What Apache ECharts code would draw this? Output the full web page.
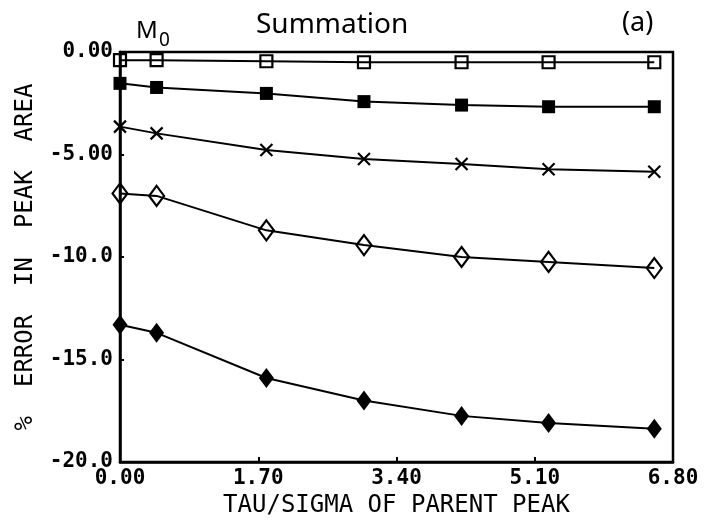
<!DOCTYPE html>
<html>
<head>
<meta charset="utf-8">
<script src="https://cdn.jsdelivr.net/npm/echarts@6/dist/echarts.min.js"></script>
<style>
  html, body { margin: 0; padding: 0; background: #fff; }
  #chart { width: 710px; height: 529px; }
</style>
</head>
<body>
<div id="chart"></div>
<script>
// Tau/sigma of the parent peak at which each error was evaluated
const xValues = [0, 0.45, 1.8, 3.0, 4.2, 5.27, 6.57];

// % error in peak area for each curve
const openSquare    = [-0.4, -0.4, -0.45, -0.5, -0.5, -0.5, -0.5];
const filledSquare  = [-1.53, -1.73, -2.02, -2.42, -2.59, -2.67, -2.67];
const crossMark     = [-3.64, -3.97, -4.78, -5.22, -5.46, -5.72, -5.84];
const openDiamond   = [-6.9, -7.02, -8.7, -9.42, -10.0, -10.24, -10.54];
const filledDiamond = [-13.3, -13.7, -15.9, -17.0, -17.75, -18.1, -18.38];

// Tick labels as printed on the axes
const xTickLabels = ['0.00', '1.70', '3.40', '5.10', '6.80'];
const yTickLabels = ['-20.0', '-15.0', '-10.0', '-5.00', '0.00'];

const INK = '#000';
const MONO = '"DejaVu Sans Mono", "Liberation Mono", monospace';
const SANS = '"Noto Sans", "DejaVu Sans", sans-serif';

function pairs(ys) {
  return xValues.map((x, i) => [x, ys[i]]);
}

function lineSeries(name, ys, symbol, size, filled) {
  return {
    name: name,
    type: 'line',
    data: pairs(ys),
    clip: false,
    symbol: symbol,
    symbolSize: size,
    showAllSymbol: true,
    lineStyle: { color: INK, width: 2 },
    itemStyle: {
      color: filled ? INK : 'transparent',
      borderColor: INK,
      borderWidth: filled ? 0 : 2.2
    },
    emphasis: { disabled: true },
    z: 3
  };
}

const chart = echarts.init(document.getElementById('chart'), null, { renderer: 'canvas' });

chart.setOption({
  backgroundColor: '#fff',
  animation: false,
  grid: {
    left: 120, right: 37, top: 52, bottom: 67,
    show: true, borderColor: INK, borderWidth: 2.5, backgroundColor: 'transparent'
  },
  xAxis: {
    type: 'value',
    min: 0, max: 6.8, interval: 1.7,
    name: 'TAU/SIGMA OF PARENT PEAK',
    nameLocation: 'middle',
    nameGap: 26,
    nameTextStyle: { color: INK, fontFamily: MONO, fontSize: 24 },
    axisLine: { show: true, onZero: false, lineStyle: { color: INK, width: 2.5 } },
    axisTick: { show: true, inside: true, length: 5, lineStyle: { color: INK, width: 2 } },
    axisLabel: {
      color: INK, fontFamily: MONO, fontSize: 21, fontWeight: 'bold', margin: 6,
      formatter: (v, i) => xTickLabels[i]
    },
    splitLine: { show: false }
  },
  yAxis: {
    type: 'value',
    min: -20, max: 0, interval: 5,
    name: '%  ERROR  IN  PEAK  AREA',
    nameLocation: 'middle',
    nameGap: 82,
    nameRotate: 90,
    nameTextStyle: { color: INK, fontFamily: MONO, fontSize: 24 },
    axisLine: { show: true, onZero: false, lineStyle: { color: INK, width: 2.5 } },
    axisTick: { show: true, inside: true, length: 4, lineStyle: { color: INK, width: 2 } },
    axisLabel: {
      color: INK, fontFamily: MONO, fontSize: 21, fontWeight: 'bold', margin: 7,
      formatter: (v, i) => yTickLabels[i]
    },
    splitLine: { show: false }
  },
  graphic: [
    { type: 'text', left: 136, top: 19, style: { text: 'M', font: '24px ' + SANS, fill: INK } },
    { type: 'text', left: 159, top: 31, style: { text: '0', font: '19px ' + SANS, fill: INK } },
    { type: 'text', left: 256, top: 11, style: { text: 'Summation', font: '28px ' + SANS, fill: INK } },
    { type: 'text', left: 622, top: 10, style: { text: '(a)', font: '27px ' + SANS, fill: INK } }
  ],
  series: [
    lineSeries('open square', openSquare, 'rect', [12, 12], false),
    lineSeries('filled square', filledSquare, 'rect', [13, 13], true),
    lineSeries('cross', crossMark, 'path://M0,0L10,10M10,0L0,10', [12, 12], false),
    lineSeries('open diamond', openDiamond, 'diamond', [15, 20], false),
    lineSeries('filled diamond', filledDiamond, 'diamond', [15, 20], true)
  ]
});
</script>
</body>
</html>
